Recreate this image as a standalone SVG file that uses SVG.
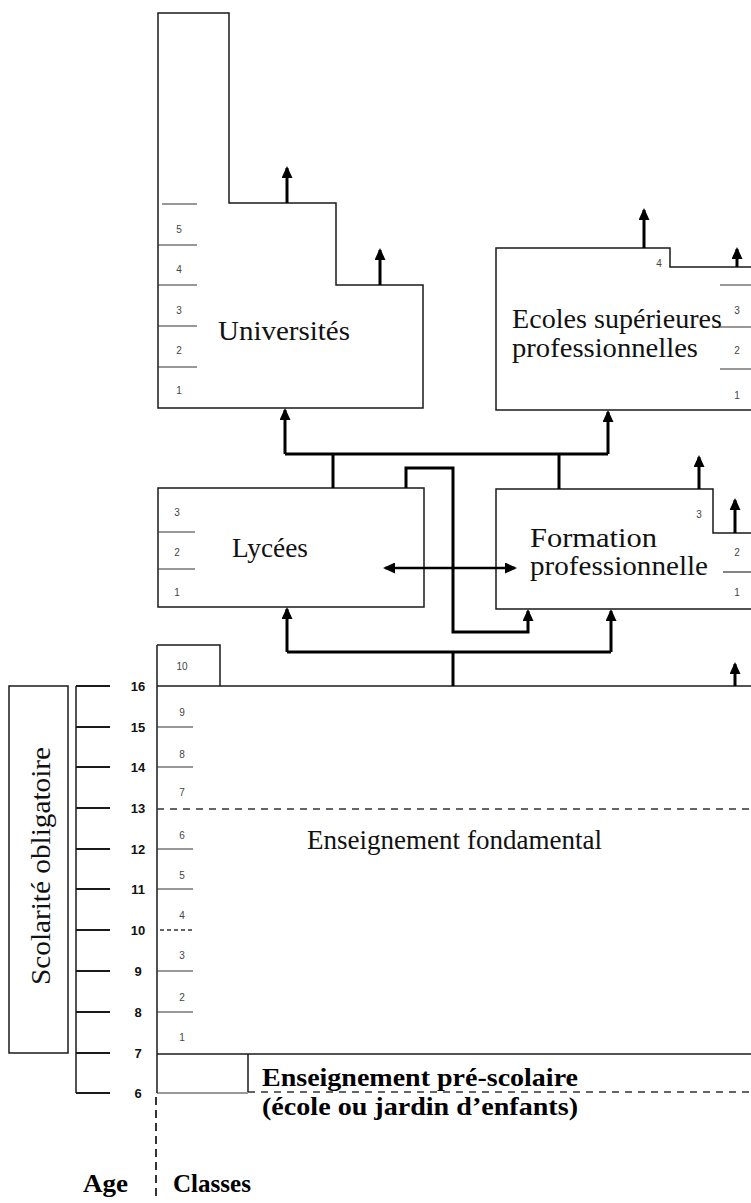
<svg xmlns="http://www.w3.org/2000/svg" width="751" height="1203" viewBox="0 0 751 1203">
<style>
.box{fill:none;stroke:#1a1a1a;stroke-width:1.5}
.thin{fill:none;stroke:#333;stroke-width:1.2}
.dash{fill:none;stroke:#333;stroke-width:1.3;stroke-dasharray:7 6}
.con{fill:none;stroke:#000;stroke-width:3}
.lbl{font-family:"Liberation Serif",serif;font-size:27px;fill:#111}
.blbl{font-family:"Liberation Serif",serif;font-size:26px;font-weight:bold;fill:#000}
.cls{font-family:"Liberation Sans",sans-serif;font-size:10px;fill:#444;text-anchor:middle}
.age{font-family:"Liberation Sans",sans-serif;font-size:13px;font-weight:bold;fill:#111;text-anchor:middle}
</style>
<defs>
<marker id="ah" markerWidth="12" markerHeight="11" refX="10" refY="5.5" orient="auto-start-reverse" markerUnits="userSpaceOnUse">
<path d="M0,0 L12,5.5 L0,11 Z" fill="#000"/>
</marker>
</defs>
<rect width="751" height="1203" fill="#fff"/>

<g id="universites">
<path class="box" d="M158,13 H229 V203 H336 V285 H423 V408 H158 Z"/>
<path class="thin" d="M162,204 H197 M158,245 H197 M158,285 H197 M158,326 H197 M158,367 H197"/>
<text class="cls" x="179" y="233">5</text>
<text class="cls" x="179" y="273">4</text>
<text class="cls" x="179" y="314">3</text>
<text class="cls" x="179" y="354">2</text>
<text class="cls" x="179" y="394">1</text>
<text class="lbl" x="218" y="340" textLength="132" lengthAdjust="spacingAndGlyphs">Universités</text>
</g>

<g id="ecoles">
<path class="box" d="M751,267 H670 V248 H496 V410 H751"/>
<path class="thin" d="M720,285 H751 M714,327 H751 M720,369 H751"/>
<text class="cls" x="659" y="267">4</text>
<text class="cls" x="737" y="314">3</text>
<text class="cls" x="737" y="354">2</text>
<text class="cls" x="737" y="399">1</text>
<text class="lbl" x="512" y="328" textLength="210" lengthAdjust="spacingAndGlyphs">Ecoles supérieures</text>
<text class="lbl" x="512" y="357" textLength="186" lengthAdjust="spacingAndGlyphs">professionnelles</text>
</g>

<g id="lycees">
<rect class="box" x="158" y="488" width="266" height="119"/>
<path class="thin" d="M158,532 H195 M158,569 H195"/>
<text class="cls" x="177" y="516">3</text>
<text class="cls" x="177" y="556">2</text>
<text class="cls" x="177" y="596">1</text>
<text class="lbl" x="232" y="557" textLength="76" lengthAdjust="spacingAndGlyphs">Lycées</text>
</g>

<g id="formation">
<path class="box" d="M751,533 H713 V489 H496 V609 H751"/>
<path class="thin" d="M723,572 H751"/>
<text class="cls" x="699" y="518">3</text>
<text class="cls" x="737" y="556">2</text>
<text class="cls" x="737" y="596">1</text>
<text class="lbl" x="530" y="547" textLength="127" lengthAdjust="spacingAndGlyphs">Formation</text>
<text class="lbl" x="530" y="575" textLength="178" lengthAdjust="spacingAndGlyphs">professionnelle</text>
</g>

<g id="fondamental">
<path class="box" d="M157,645 H220 V686"/>
<path class="box" d="M157,645 V1093"/>
<path class="box" d="M157,686 H751"/>
<path class="box" d="M157,1054 H751"/>
<path class="thin" d="M157,727 H193 M157,767 H193 M157,849 H193 M157,889 H193 M157,971 H193 M157,1012 H193"/>
<path class="dash" d="M157,809 H751"/>
<path class="dash" d="M160,930 H193" style="stroke-dasharray:4 3"/>
<text class="cls" x="182" y="670">10</text>
<text class="cls" x="182" y="716">9</text>
<text class="cls" x="182" y="758">8</text>
<text class="cls" x="182" y="796">7</text>
<text class="cls" x="182" y="839">6</text>
<text class="cls" x="182" y="879">5</text>
<text class="cls" x="182" y="919">4</text>
<text class="cls" x="182" y="959">3</text>
<text class="cls" x="182" y="1001">2</text>
<text class="cls" x="182" y="1041">1</text>
<text class="lbl" x="307" y="849" textLength="295" lengthAdjust="spacingAndGlyphs">Enseignement fondamental</text>
</g>

<g id="prescolaire">
<path class="box" d="M248,1054 V1092"/>
<path class="thin" d="M157,1093 H248"/>
<path class="dash" d="M248,1092 H751" style="stroke-width:1.6"/>
<text class="blbl" x="262" y="1086" textLength="316" lengthAdjust="spacingAndGlyphs">Enseignement pré-scolaire</text>
<text class="blbl" x="262" y="1115" textLength="316" lengthAdjust="spacingAndGlyphs">(école ou jardin d’enfants)</text>
</g>

<g id="scolarite">
<rect class="box" x="9" y="686" width="59" height="367"/>
<text class="lbl" transform="translate(50,866) rotate(-90)" x="0" y="0" text-anchor="middle" textLength="238" lengthAdjust="spacingAndGlyphs">Scolarité obligatoire</text>
</g>

<g id="age-scale">
<path class="box" d="M76,686 V1093"/>
<path class="box" style="stroke-width:1.8" d="M76,686 H110 M76,727 H110 M76,767 H110 M76,808 H110 M76,849 H110 M76,889 H110 M76,930 H110 M76,971 H110 M76,1012 H110 M76,1053 H110 M76,1093 H110"/>
<text class="age" x="138" y="691">16</text>
<text class="age" x="138" y="732">15</text>
<text class="age" x="138" y="772">14</text>
<text class="age" x="138" y="813">13</text>
<text class="age" x="138" y="854">12</text>
<text class="age" x="138" y="894">11</text>
<text class="age" x="138" y="935">10</text>
<text class="age" x="138" y="976">9</text>
<text class="age" x="138" y="1017">8</text>
<text class="age" x="138" y="1058">7</text>
<text class="age" x="138" y="1098">6</text>
<path class="dash" d="M156,1097 V1196" style="stroke-width:2;stroke-dasharray:8 5"/>
<text class="blbl" x="83" y="1192" textLength="45" lengthAdjust="spacingAndGlyphs">Age</text>
<text class="blbl" x="173" y="1192" textLength="78" lengthAdjust="spacingAndGlyphs">Classes</text>
</g>

<g id="connectors">
<path class="con" d="M285,454 H608"/>
<path class="con" d="M285,454 V410" marker-end="url(#ah)"/>
<path class="con" d="M608,454 V412" marker-end="url(#ah)"/>
<path class="con" d="M333,488 V454"/>
<path class="con" d="M559,489 V454"/>
<path class="con" d="M406,488 V468 H453 V632 H528 V611" marker-end="url(#ah)"/>
<path class="con" style="stroke-width:2.5" d="M385,568 H515" marker-start="url(#ah)" marker-end="url(#ah)"/>
<path class="con" d="M453,686 V652"/>
<path class="con" d="M287,652 H611"/>
<path class="con" d="M287,652 V609" marker-end="url(#ah)"/>
<path class="con" d="M611,652 V611" marker-end="url(#ah)"/>
<path class="con" d="M287,203 V168" marker-end="url(#ah)"/>
<path class="con" d="M380,285 V250" marker-end="url(#ah)"/>
<path class="con" d="M644,248 V210" marker-end="url(#ah)"/>
<path class="con" d="M737,267 V249" marker-end="url(#ah)"/>
<path class="con" d="M699,489 V457" marker-end="url(#ah)"/>
<path class="con" d="M735,533 V500" marker-end="url(#ah)"/>
<path class="con" d="M735,686 V664" marker-end="url(#ah)"/>
</g>
</svg>
